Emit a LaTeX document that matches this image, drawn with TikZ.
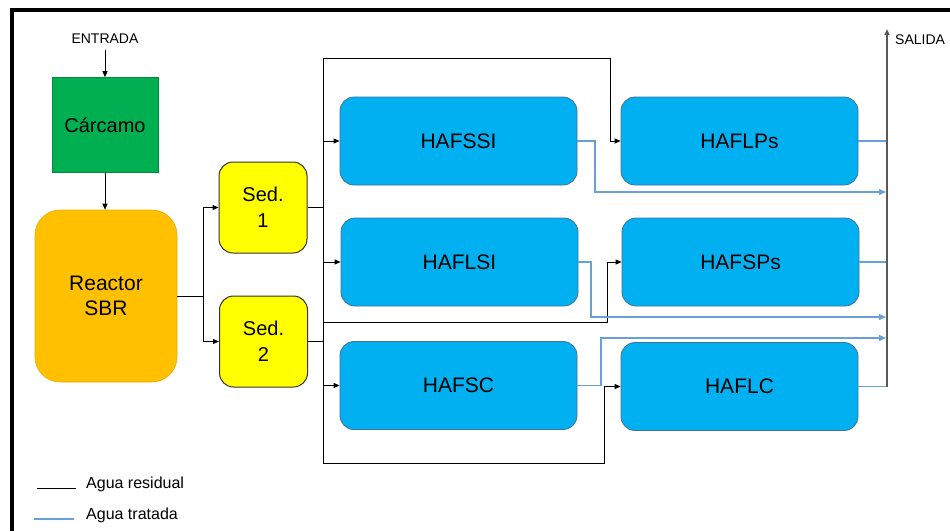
\documentclass[tikz,border=0pt]{standalone}
\usepackage{fontspec}
\setmainfont{Liberation Sans}
\usetikzlibrary{arrows.meta,calc}

\definecolor{verde}{RGB}{0,176,80}
\definecolor{naranja}{RGB}{255,192,0}
\definecolor{amarillo}{RGB}{255,255,0}
\definecolor{azul}{RGB}{0,176,240}
\definecolor{azulborde}{RGB}{65,113,156}
\definecolor{tratada}{RGB}{104,160,216}
\definecolor{gris}{RGB}{89,89,89}

\tikzset{
  caja/.style={rounded corners=14pt, draw=azulborde, fill=azul, line width=0.8pt,
    minimum width=237pt, minimum height=88pt, font=\fontsize{21}{25}\selectfont},
  sedbox/.style={rounded corners=14pt, draw=black!80, fill=amarillo, line width=1pt,
    minimum width=88pt, minimum height=91pt, align=center, font=\fontsize{20}{26}\selectfont},
  residual/.style={draw=black, line width=1pt},
  resflecha/.style={residual, -{Triangle[length=6pt,width=5pt]}},
  trat/.style={draw=tratada, line width=1.3pt},
  tratflecha/.style={trat, -{Triangle[length=7pt,width=6pt]}, shorten >=1pt},
  rotulo/.style={font=\fontsize{14}{16}\selectfont, inner sep=0pt},
  leyenda/.style={font=\fontsize{16}{18}\selectfont, anchor=west, inner sep=0pt},
}

\begin{document}
\begin{tikzpicture}[x=1pt,y=-1pt]

\useasboundingbox (0,0) rectangle (950,531);
\draw[line width=3.5pt] (12,531) -- (12,10) -- (950,10);

% entrada y pretratamiento
\node[rotulo] (entrada) at (105,39) {ENTRADA};
\node[draw=verde!80!black, fill=verde, line width=0.6pt, minimum width=106pt,
  minimum height=95pt, font=\fontsize{20}{24}\selectfont] (carcamo) at (105,125) {Cárcamo};
\node[rounded corners=25pt, draw=naranja!90!black, fill=naranja, line width=0.6pt,
  minimum width=142pt, minimum height=172pt, align=center,
  font=\fontsize{21}{25}\selectfont] (reactor) at (106,296) {Reactor\\SBR};
\node[sedbox] (sed1) at (263,207.5) {Sed.\\1};
\node[sedbox] (sed2) at (263.5,341.5) {Sed.\\2};

% humedales
\node[caja] (hafssi) at (458.5,141) {HAFSSI};
\node[caja] (haflsi) at (459.5,262) {HAFLSI};
\node[caja] (hafsc) at (458.5,385.5) {HAFSC};
\node[caja] (haflps) at (739.5,141) {HAFLPs};
\node[caja] (hafsps) at (740.5,262) {HAFSPs};
\node[caja] (haflc) at (739.5,386.5) {HAFLC};

% agua residual
\draw[resflecha, shorten <=6pt] (entrada.south) -- (carcamo.north);
\draw[resflecha] (carcamo.south) -- (carcamo.south |- reactor.north);
\coordinate (reparto) at (203,296);
\draw[residual] (reactor.east) -- (reparto);
\draw[resflecha] (reparto) |- (sed1.west);
\draw[resflecha] (reparto) |- (sed2.west);

\coordinate (bsup) at (323,58);
\coordinate (binf) at (323,463);
\draw[residual] (bsup) -- (binf);
\draw[residual] (sed1.east) -- (sed1.east -| bsup);
\draw[residual] (sed2.east) -- (sed2.east -| bsup);
\draw[resflecha] (hafssi.west -| bsup) -- (hafssi.west);
\draw[resflecha] (haflsi.west -| bsup) -- (haflsi.west);
\draw[resflecha] (hafsc.west -| bsup) -- (hafsc.west);

\coordinate (codo1) at (610,58);
\draw[resflecha] (bsup) -- (codo1) |- (haflps.west);
\coordinate (codo2) at (607,322);
\draw[resflecha] (codo2 -| bsup) -- (codo2) |- (hafsps.west);
\coordinate (codo3) at (604,463);
\draw[resflecha] (binf) -- (codo3) |- (haflc.west);

% agua tratada
\coordinate (salida) at (887,29);
\node[rotulo, anchor=west] (salidatxt) at (895,40) {SALIDA};
\draw[trat] (haflps.east) -- (haflps.east -| salida);
\draw[trat] (hafsps.east) -- (hafsps.east -| salida);
\draw[trat] (haflc.east) -- (haflc.east -| salida);
\coordinate (t1) at (595,192);
\draw[tratflecha] (hafssi.east) -| (t1) -- (t1 -| salida);
\coordinate (t2) at (591,317);
\draw[tratflecha] (haflsi.east) -| (t2) -- (t2 -| salida);
\coordinate (t3) at (601,338);
\draw[tratflecha] (hafsc.east) -| (t3) -- (t3 -| salida);
\draw[line width=2pt, draw=gris, -{Triangle[length=6pt,width=5pt]}] (haflc.east -| salida) -- (salida);

% leyenda
\node[leyenda] (lres) at (86,484) {Agua residual};
\node[leyenda] (ltrat) at (86,515) {Agua tratada};
\draw[residual] ($(lres.west)+(-49,4)$) -- ++(39,0);
\draw[trat] ($(ltrat.west)+(-52,4)$) -- ++(40,0);

\end{tikzpicture}
\end{document}
